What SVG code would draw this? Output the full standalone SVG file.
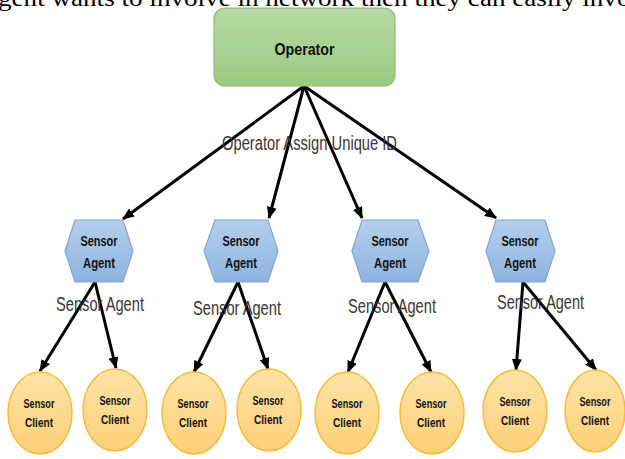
<svg xmlns="http://www.w3.org/2000/svg" width="625" height="459" viewBox="0 0 625 459">
  <defs>
    <linearGradient id="gOp" x1="0" y1="0" x2="0" y2="1">
      <stop offset="0" stop-color="#b8d9a6"/>
      <stop offset="1" stop-color="#9bca82"/>
    </linearGradient>
    <linearGradient id="gAgent" x1="0" y1="0" x2="0" y2="1">
      <stop offset="0" stop-color="#b4cfec"/>
      <stop offset="1" stop-color="#8fb3de"/>
    </linearGradient>
    <linearGradient id="gClient" x1="0" y1="0" x2="0" y2="1">
      <stop offset="0" stop-color="#ffe3a6"/>
      <stop offset="1" stop-color="#fdd07a"/>
    </linearGradient>
    <marker id="arrow" markerUnits="userSpaceOnUse" markerWidth="12" markerHeight="10" refX="11" refY="5" orient="auto">
      <path d="M0,0 L12,5 L0,10 Z" fill="#000"/>
    </marker>
    <style>
      .op { fill: url(#gOp); stroke: #8cbd70; stroke-width: 1.2; }
      .agent { fill: url(#gAgent); stroke: #7fa7d6; stroke-width: 1.2; }
      .client { fill: url(#gClient); stroke: #f6bd3a; stroke-width: 1.5; }
      .conn line { stroke: #000; stroke-width: 3; marker-end: url(#arrow); }
      .bold { font-family: "Liberation Sans", Arial, sans-serif; font-weight: bold; fill: #111; text-anchor: middle; }
      .lbl { font-family: "Liberation Sans", Arial, sans-serif; fill: #383838; font-size: 20px; }
      .prose { font-family: "Liberation Serif", "Times New Roman", serif; fill: #000; font-size: 23px; }
    </style>
  </defs>

  <rect width="625" height="459" fill="#fff"/>

  <!-- running text line above the figure, clipped by the frame -->
  <text class="prose" x="-2" y="6" textLength="640" lengthAdjust="spacingAndGlyphs">gent wants to involve in network then they can easily invol</text>

  <!-- connectors -->
  <g id="connectors" class="conn">
    <line x1="304" y1="86" x2="123" y2="219"/>
    <line x1="304" y1="86" x2="269" y2="218"/>
    <line x1="304" y1="86" x2="362" y2="218"/>
    <line x1="304" y1="86" x2="496" y2="218"/>

    <line x1="95" y1="282" x2="40" y2="371"/>
    <line x1="95" y1="282" x2="116" y2="368"/>
    <line x1="238" y1="282" x2="194" y2="372"/>
    <line x1="238" y1="282" x2="268" y2="369"/>
    <line x1="385" y1="282" x2="348" y2="372"/>
    <line x1="385" y1="282" x2="431" y2="372"/>
    <line x1="523" y1="282" x2="516" y2="370"/>
    <line x1="523" y1="282" x2="596" y2="370"/>
  </g>

  <!-- edge labels -->
  <text class="lbl" x="222" y="150" textLength="175" lengthAdjust="spacingAndGlyphs">Operator Assign Unique ID</text>
  <text class="lbl" x="56" y="311" textLength="88" lengthAdjust="spacingAndGlyphs">Sensor Agent</text>
  <text class="lbl" x="193" y="315" textLength="88" lengthAdjust="spacingAndGlyphs">Sensor Agent</text>
  <text class="lbl" x="348" y="313" textLength="88" lengthAdjust="spacingAndGlyphs">Sensor Agent</text>
  <text class="lbl" x="497" y="309" textLength="87" lengthAdjust="spacingAndGlyphs">Sensor Agent</text>

  <!-- operator -->
  <g id="operator">
    <rect class="op" x="214" y="8" width="181" height="78" rx="11"/>
    <text class="bold" x="304.5" y="55" font-size="17" textLength="60" lengthAdjust="spacingAndGlyphs">Operator</text>
  </g>

  <!-- sensor agents -->
  <g id="agent1">
    <polygon class="agent" points="65,251 75,220 123,220 133,251 123,282 75,282"/>
    <text class="bold" x="99" y="246" font-size="14" textLength="37" lengthAdjust="spacingAndGlyphs">Sensor</text>
    <text class="bold" x="99" y="268" font-size="14" textLength="32" lengthAdjust="spacingAndGlyphs">Agent</text>
  </g>
  <g id="agent2">
    <polygon class="agent" points="204,251 215,220 268,220 278,251 268,282 215,282"/>
    <text class="bold" x="241" y="246" font-size="14" textLength="37" lengthAdjust="spacingAndGlyphs">Sensor</text>
    <text class="bold" x="241" y="268" font-size="14" textLength="32" lengthAdjust="spacingAndGlyphs">Agent</text>
  </g>
  <g id="agent3">
    <polygon class="agent" points="352,251 362,220 418,220 429,251 418,282 362,282"/>
    <text class="bold" x="390" y="246" font-size="14" textLength="37" lengthAdjust="spacingAndGlyphs">Sensor</text>
    <text class="bold" x="390" y="268" font-size="14" textLength="32" lengthAdjust="spacingAndGlyphs">Agent</text>
  </g>
  <g id="agent4">
    <polygon class="agent" points="486,251 496,220 545,220 555,251 545,282 496,282"/>
    <text class="bold" x="520" y="246" font-size="14" textLength="37" lengthAdjust="spacingAndGlyphs">Sensor</text>
    <text class="bold" x="520" y="268" font-size="14" textLength="32" lengthAdjust="spacingAndGlyphs">Agent</text>
  </g>

  <!-- sensor clients -->
  <g id="client1">
    <ellipse class="client" cx="40" cy="413" rx="32" ry="41"/>
    <text class="bold" x="39" y="407.5" font-size="12" textLength="31" lengthAdjust="spacingAndGlyphs">Sensor</text>
    <text class="bold" x="39" y="426.5" font-size="12" textLength="28" lengthAdjust="spacingAndGlyphs">Client</text>
  </g>
  <g id="client2">
    <ellipse class="client" cx="115" cy="410" rx="32" ry="41"/>
    <text class="bold" x="115" y="404.5" font-size="12" textLength="31" lengthAdjust="spacingAndGlyphs">Sensor</text>
    <text class="bold" x="115" y="423.5" font-size="12" textLength="28" lengthAdjust="spacingAndGlyphs">Client</text>
  </g>
  <g id="client3">
    <ellipse class="client" cx="194" cy="413" rx="32" ry="41"/>
    <text class="bold" x="193" y="407.5" font-size="12" textLength="31" lengthAdjust="spacingAndGlyphs">Sensor</text>
    <text class="bold" x="193" y="426.5" font-size="12" textLength="28" lengthAdjust="spacingAndGlyphs">Client</text>
  </g>
  <g id="client4">
    <ellipse class="client" cx="269" cy="410" rx="32" ry="41"/>
    <text class="bold" x="268" y="404.5" font-size="12" textLength="31" lengthAdjust="spacingAndGlyphs">Sensor</text>
    <text class="bold" x="268" y="423.5" font-size="12" textLength="28" lengthAdjust="spacingAndGlyphs">Client</text>
  </g>
  <g id="client5">
    <ellipse class="client" cx="347" cy="413" rx="32" ry="41"/>
    <text class="bold" x="347" y="407.5" font-size="12" textLength="31" lengthAdjust="spacingAndGlyphs">Sensor</text>
    <text class="bold" x="347" y="426.5" font-size="12" textLength="28" lengthAdjust="spacingAndGlyphs">Client</text>
  </g>
  <g id="client6">
    <ellipse class="client" cx="432" cy="413" rx="32" ry="41"/>
    <text class="bold" x="431" y="407.5" font-size="12" textLength="31" lengthAdjust="spacingAndGlyphs">Sensor</text>
    <text class="bold" x="431" y="426.5" font-size="12" textLength="28" lengthAdjust="spacingAndGlyphs">Client</text>
  </g>
  <g id="client7">
    <ellipse class="client" cx="515" cy="411" rx="32" ry="41"/>
    <text class="bold" x="515" y="405.5" font-size="12" textLength="31" lengthAdjust="spacingAndGlyphs">Sensor</text>
    <text class="bold" x="515" y="424.5" font-size="12" textLength="28" lengthAdjust="spacingAndGlyphs">Client</text>
  </g>
  <g id="client8">
    <ellipse class="client" cx="595" cy="411" rx="30" ry="41"/>
    <text class="bold" x="595" y="405.5" font-size="12" textLength="31" lengthAdjust="spacingAndGlyphs">Sensor</text>
    <text class="bold" x="595" y="424.5" font-size="12" textLength="28" lengthAdjust="spacingAndGlyphs">Client</text>
  </g>
</svg>
